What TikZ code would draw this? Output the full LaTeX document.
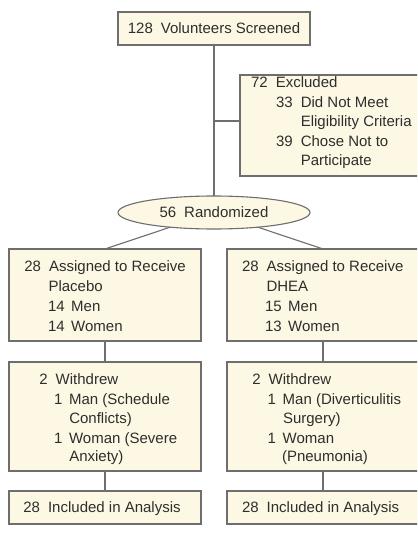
\documentclass[tikz,border=0pt]{standalone}
\usepackage{fontspec}
\setmainfont{Liberation Sans}
\usetikzlibrary{shapes.geometric}
\definecolor{boxfill}{HTML}{FCF8E3}
\definecolor{boxline}{HTML}{6E6E6E}
\definecolor{txt}{HTML}{2E2E2E}
\begin{document}
\begin{tikzpicture}[x=1bp,y=-1bp,
  box/.style={draw=boxline,fill=boxfill,line width=1.1bp,inner sep=0pt,outer sep=0pt,text=txt,font=\fontsize{15bp}{18bp}\selectfont},
  conn/.style={draw=boxline,line width=1.1bp},
  txtline/.style={anchor=base west,inner sep=0pt,outer sep=0pt,text=txt,font=\fontsize{15bp}{18bp}\selectfont}]
\useasboundingbox (0,0) rectangle (417,537);
\clip (0,0) rectangle (417,537);
\fill[white] (0,0) rectangle (417,537);
% boxes
\node[box,minimum width=192bp,minimum height=33bp] (top) at (214,28.5) {128\hspace{8bp}Volunteers Screened};
\node[box,minimum width=180bp,minimum height=101bp] (excl) at (330,125.5) {};
\node[box,ellipse,minimum width=192bp,minimum height=33bp] (ell) at (214,212.5) {56\hspace{8bp}Randomized};
\node[box,minimum width=192bp,minimum height=92bp] (L2) at (105,295) {};
\node[box,minimum width=192bp,minimum height=92bp] (R2) at (323,295) {};
\node[box,minimum width=192bp,minimum height=109bp] (L3) at (105,416.5) {};
\node[box,minimum width=192bp,minimum height=109bp] (R3) at (323,416.5) {};
\node[box,minimum width=192bp,minimum height=33bp] (L4) at (105,507.5) {};
\node[box,minimum width=192bp,minimum height=33bp] (R4) at (323,507.5) {};
% connectors
\draw[conn] (top.south) -- (ell.north);
\coordinate (br) at (214,121);
\draw[conn] (br) -- (br -| excl.west);
\draw[conn] (L2.north) -- (ell);
\draw[conn] (R2.north) -- (ell);
\draw[conn] (L2.south) -- (L3.north);
\draw[conn] (R2.south) -- (R3.north);
\draw[conn] (L3.south) -- (L4.north);
\draw[conn] (R3.south) -- (R4.north);
% excluded text
\node[txtline] (e1) at (251.1,87.5) {72\hspace{8bp}Excluded};
\node[txtline] (e2) at (276.1,107.5) {33\hspace{8bp}Did Not Meet};
\node[txtline] (e3) at (300.8,126.5) {Eligibility Criteria};
\node[txtline] (e4) at (276.1,146.5) {39\hspace{8bp}Chose Not to};
\node[txtline] (e5) at (300.8,165.5) {Participate};
% assigned
\node[txtline] (a1) at (24.4,271) {28\hspace{8bp}Assigned to Receive};
\node[txtline] (a2) at (48.5,291) {Placebo};
\node[txtline] (a3) at (48,311.5) {14\hspace{6.5bp}Men};
\node[txtline] (a4) at (48,331.5) {14\hspace{6.5bp}Women};
\node[txtline] (b1) at (242,271) {28\hspace{8bp}Assigned to Receive};
\node[txtline] (b2) at (266.5,291) {DHEA};
\node[txtline] (b3) at (265,311.5) {15\hspace{6.5bp}Men};
\node[txtline] (b4) at (265,331.5) {13\hspace{6.5bp}Women};
% withdrew
\node[txtline] (w1) at (39.4,384) {2\hspace{8bp}Withdrew};
\node[txtline] (w2) at (54,404.5) {1\hspace{6.7bp}Man (Schedule};
\node[txtline] (w3) at (69.3,423) {Conflicts)};
\node[txtline] (w4) at (54,443) {1\hspace{6.7bp}Woman (Severe};
\node[txtline] (w5) at (69.3,461.5) {Anxiety)};
\node[txtline] (v1) at (252.4,384) {2\hspace{8bp}Withdrew};
\node[txtline] (v2) at (267.7,404.5) {1\hspace{6.7bp}Man (Diverticulitis};
\node[txtline] (v3) at (283,423) {Surgery)};
\node[txtline] (v4) at (267.7,443) {1\hspace{6.7bp}Woman};
\node[txtline] (v5) at (282,461.5) {(Pneumonia)};
% included
\node[txtline] (i1) at (23.4,512.5) {28\hspace{8bp}Included in Analysis};
\node[txtline] (i2) at (242,512.5) {28\hspace{8bp}Included in Analysis};
\end{tikzpicture}
\end{document}
